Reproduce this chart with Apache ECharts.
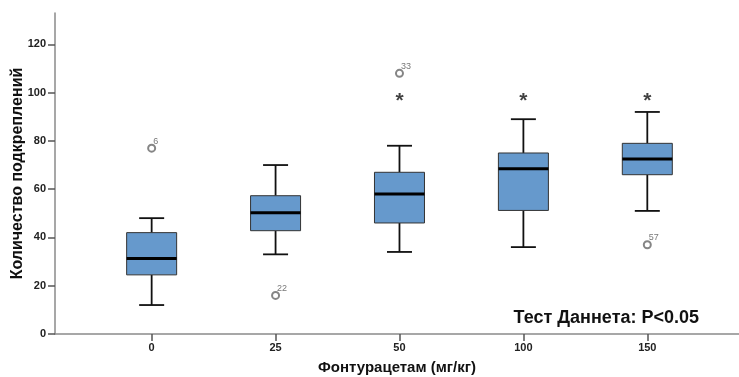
<!DOCTYPE html>
<html>
<head>
<meta charset="utf-8">
<script src="https://cdn.jsdelivr.net/npm/echarts@6/dist/echarts.min.js"></script>
<style>
html,body{margin:0;padding:0;background:#fff;}
#chart{width:739px;height:377px;}
</style>
</head>
<body>
<div id="chart"></div>
<script>
// Categories (dose, mg/kg)
const categories = ['0', '25', '50', '100', '150'];
// Box statistics per category: [min whisker, Q1, median, Q3, max whisker]
const whiskerLow = [12, 33, 34, 36, 51];
const q1 = [24.5, 42.8, 46, 51.2, 66];
const median = [31.3, 50.2, 58, 68.5, 72.5];
const q3 = [42, 57.3, 67, 75, 79];
const whiskerHigh = [48, 70, 78, 89, 92];
// Outliers: [category index, value, case label]
const outlierCat = [0, 1, 2, 4];
const outlierVal = [77, 16, 108, 37];
const outlierLabel = ['6', '22', '33', '57'];
// Significance markers (*)
const starCat = [2, 3, 4];
const starVal = [96.5, 96.5, 96.5];
// Y ticks
const yTicks = [0, 20, 40, 60, 80, 100, 120];

const boxData = categories.map((c, i) => [i, whiskerLow[i], q1[i], median[i], q3[i], whiskerHigh[i]]);
const outlierData = outlierCat.map((c, i) => ({ value: [c, outlierVal[i]], name: outlierLabel[i] }));
const starData = starCat.map((c, i) => [c, starVal[i]]);

const font = 'Liberation Sans, Arial, sans-serif';
const BOX_W = 50;

function renderBox(params, api) {
  const x = api.value(0);
  const lo = api.coord([x, api.value(1)]);
  const b1 = api.coord([x, api.value(2)]);
  const md = api.coord([x, api.value(3)]);
  const b3 = api.coord([x, api.value(4)]);
  const hi = api.coord([x, api.value(5)]);
  const cx = lo[0];
  const h = BOX_W / 2, c = BOX_W / 4;
  const whisk = { stroke: '#111', lineWidth: 1.8 };
  return {
    type: 'group',
    children: [
      { type: 'line', shape: { x1: cx, y1: hi[1], x2: cx, y2: b3[1] }, style: whisk },
      { type: 'line', shape: { x1: cx, y1: b1[1], x2: cx, y2: lo[1] }, style: whisk },
      { type: 'line', shape: { x1: cx - c, y1: hi[1], x2: cx + c, y2: hi[1] }, style: whisk },
      { type: 'line', shape: { x1: cx - c, y1: lo[1], x2: cx + c, y2: lo[1] }, style: whisk },
      { type: 'rect', shape: { x: cx - h, y: b3[1], width: BOX_W, height: b1[1] - b3[1] },
        style: { fill: '#6699cc', stroke: '#333', lineWidth: 1 } },
      { type: 'line', shape: { x1: cx - h, y1: md[1], x2: cx + h, y2: md[1] },
        style: { stroke: '#000', lineWidth: 3 } }
    ]
  };
}

const chart = echarts.init(document.getElementById('chart'));
chart.setOption({
  animation: false,
  backgroundColor: '#ffffff',
  title: {
    text: 'Тест Даннета: P<0.05',
    right: 40, top: 309, padding: 0,
    textStyle: { fontFamily: font, fontSize: 18, fontWeight: 'bold', color: '#111' }
  },
  grid: { left: 55, right: 0, top: 13, bottom: 43, outerBoundsMode: 'none', containLabel: false },
  xAxis: {
    type: 'value',
    min: -0.78, max: 4.74,
    splitLine: { show: false },
    axisLine: { show: true, onZero: false, lineStyle: { color: '#8a8a8a', width: 1.5 } },
    axisTick: { show: true, customValues: [0, 1, 2, 3, 4], length: 7, lineStyle: { color: '#555', width: 1.5 } },
    axisLabel: {
      customValues: [0, 1, 2, 3, 4],
      formatter: v => categories[Math.round(v)],
      fontFamily: font, fontSize: 11, fontWeight: 'bold', color: '#222', margin: 8
    },
    name: 'Фонтурацетам (мг/кг)',
    nameLocation: 'middle', nameGap: 26,
    nameTextStyle: { fontFamily: font, fontSize: 15, fontWeight: 'bold', color: '#111' }
  },
  yAxis: {
    type: 'value',
    min: 0, max: 133,
    splitLine: { show: false },
    axisLine: { show: true, onZero: false, lineStyle: { color: '#8a8a8a', width: 1.5 } },
    axisTick: { show: true, customValues: yTicks, length: 7, lineStyle: { color: '#555', width: 1.5 } },
    axisLabel: {
      customValues: yTicks,
      fontFamily: font, fontSize: 11, fontWeight: 'bold', color: '#222', margin: 9
    },
    name: 'Количество подкреплений',
    nameLocation: 'middle', nameGap: 29, nameMoveOverlap: false,
    nameTextStyle: { fontFamily: font, fontSize: 16, fontWeight: 'bold', color: '#111' }
  },
  series: [
    {
      type: 'custom',
      data: boxData,
      renderItem: renderBox,
      encode: { x: 0, y: [1, 2, 3, 4, 5] },
      silent: true
    },
    {
      type: 'scatter',
      data: outlierData,
      symbol: 'emptyCircle',
      symbolSize: 7,
      itemStyle: { color: '#666', borderColor: '#666', borderWidth: 1.3 },
      label: {
        show: true, position: [6, -7], formatter: p => p.name,
        fontFamily: font, fontSize: 9, color: '#555'
      },
      silent: true
    },
    {
      type: 'scatter',
      data: starData,
      symbolSize: 0,
      label: {
        show: true, position: 'inside', formatter: '*',
        fontFamily: font, fontSize: 21, fontWeight: 'bold', color: '#111'
      },
      silent: true
    }
  ]
});
</script>
</body>
</html>
